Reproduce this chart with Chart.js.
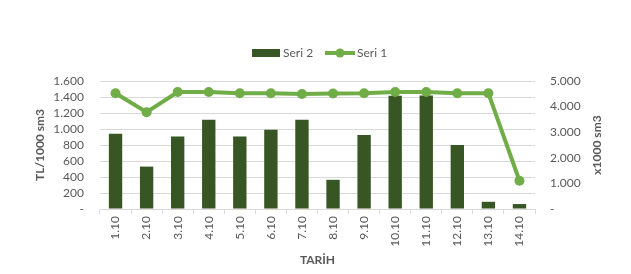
<!DOCTYPE html>
<html>
<head>
<meta charset="utf-8">
<script src="https://cdn.jsdelivr.net/npm/chart.js@4/dist/chart.umd.min.js"></script>
<style>
  html, body { margin: 0; padding: 0; background: #fff; }
  #wrap { width: 631px; height: 274px; }
</style>
</head>
<body>
<div id="wrap"><canvas id="chart"></canvas></div>
<script>
  const dates = ['1.10', '2.10', '3.10', '4.10', '5.10', '6.10', '7.10',
                 '8.10', '9.10', '10.10', '11.10', '12.10', '13.10', '14.10'];
  const seri2 = [940, 530, 905, 1115, 905, 990, 1115, 365, 925, 1415, 1420, 800, 90, 62];
  const seri1 = [4520, 3780, 4570, 4570, 4520, 4520, 4490, 4510, 4520, 4570, 4570, 4520, 4520, 1105];
  const rightTitle = 'x1000 sm3';

  const barColor = '#375623';
  const lineColor = '#70AD47';
  const textColor = '#595959';
  const fontFamily = 'Lato, "Open Sans", sans-serif';

  const fmt = v => v === 0 ? '-' : v.toLocaleString('de-DE');

  // legend + right axis title drawn by hand, Excel style
  const excelExtras = {
    id: 'excelExtras',
    afterDraw(chart) {
      const c = chart.ctx;
      const y = 53;
      c.save();
      c.font = '12px ' + fontFamily;
      c.textBaseline = 'middle';
      // Seri 2 (bars)
      c.fillStyle = barColor;
      c.fillRect(252, y - 4, 28, 8);
      c.fillStyle = textColor;
      c.fillText(chart.data.datasets[0].label, 283, y);
      // Seri 1 (line)
      c.strokeStyle = lineColor;
      c.lineWidth = 4;
      c.beginPath();
      c.moveTo(325, y);
      c.lineTo(355, y);
      c.stroke();
      c.fillStyle = lineColor;
      c.beginPath();
      c.arc(340, y, 4.5, 0, Math.PI * 2);
      c.fill();
      c.fillStyle = textColor;
      c.fillText(chart.data.datasets[1].label, 357, y);

      // right axis title, reading bottom to top
      const a = chart.chartArea;
      c.translate(597, (a.top + a.bottom) / 2);
      c.rotate(-Math.PI / 2);
      c.textAlign = 'center';
      c.font = 'bold 12px ' + fontFamily;
      c.fillText(rightTitle, 0, 0);
      c.restore();
    }
  };

  const ctx = document.getElementById('chart').getContext('2d');
  const chart = new Chart(ctx, {
    type: 'bar',
    data: {
      labels: dates,
      datasets: [{
        type: 'bar',
        label: 'Seri 2',
        data: seri2,
        backgroundColor: barColor,
        yAxisID: 'y',
        barPercentage: 0.43,
        categoryPercentage: 1,
        order: 1
      }, {
        type: 'line',
        label: 'Seri 1',
        data: seri1,
        borderColor: lineColor,
        backgroundColor: lineColor,
        borderWidth: 4,
        pointRadius: 5,
        pointBackgroundColor: lineColor,
        pointBorderWidth: 0,
        tension: 0,
        yAxisID: 'y1',
        order: 0
      }]
    },
    options: {
      responsive: true,
      maintainAspectRatio: false,
      animation: false,
      layout: { padding: { top: 81, left: 0, right: 0, bottom: 0 } },
      plugins: {
        legend: { display: false },
        tooltip: { enabled: false }
      },
      scales: {
        x: {
          offset: true,
          grid: {
            display: true,
            offset: true,
            drawOnChartArea: false,
            drawTicks: true,
            tickLength: 5,
            color: '#d9d9d9'
          },
          border: { color: '#d9d9d9' },
          ticks: {
            minRotation: 90,
            maxRotation: 90,
            autoSkip: false,
            color: textColor,
            font: { family: fontFamily, size: 12 },
            padding: 2
          },
          title: {
            display: true,
            text: 'TARİH',
            color: textColor,
            font: { family: fontFamily, size: 12, weight: 'bold' },
            padding: { top: 4, bottom: 7 }
          },
          afterFit(scale) { scale.height = 65; }
        },
        y: {
          position: 'left',
          min: 0,
          max: 1600,
          grid: { color: '#d9d9d9', drawTicks: false },
          border: { display: false },
          ticks: {
            stepSize: 200,
            autoSkip: false,
            padding: 16,
            color: textColor,
            font: { family: fontFamily, size: 12 },
            callback: v => fmt(v)
          },
          title: {
            display: true,
            text: 'TL/1000 sm3',
            color: textColor,
            font: { family: fontFamily, size: 12, weight: 'bold' },
            padding: { top: 33, bottom: 0 }
          },
          afterFit(scale) { scale.width = 100; }
        },
        y1: {
          position: 'right',
          min: 0,
          max: 5000,
          grid: { display: false, drawTicks: false },
          border: { display: false },
          ticks: {
            stepSize: 1000,
            autoSkip: false,
            padding: 15,
            color: textColor,
            font: { family: fontFamily, size: 12 },
            callback: v => fmt(v)
          },
          title: { display: false },
          afterFit(scale) { scale.width = 96; }
        }
      }
    },
    plugins: [excelExtras]
  });
</script>
</body>
</html>
